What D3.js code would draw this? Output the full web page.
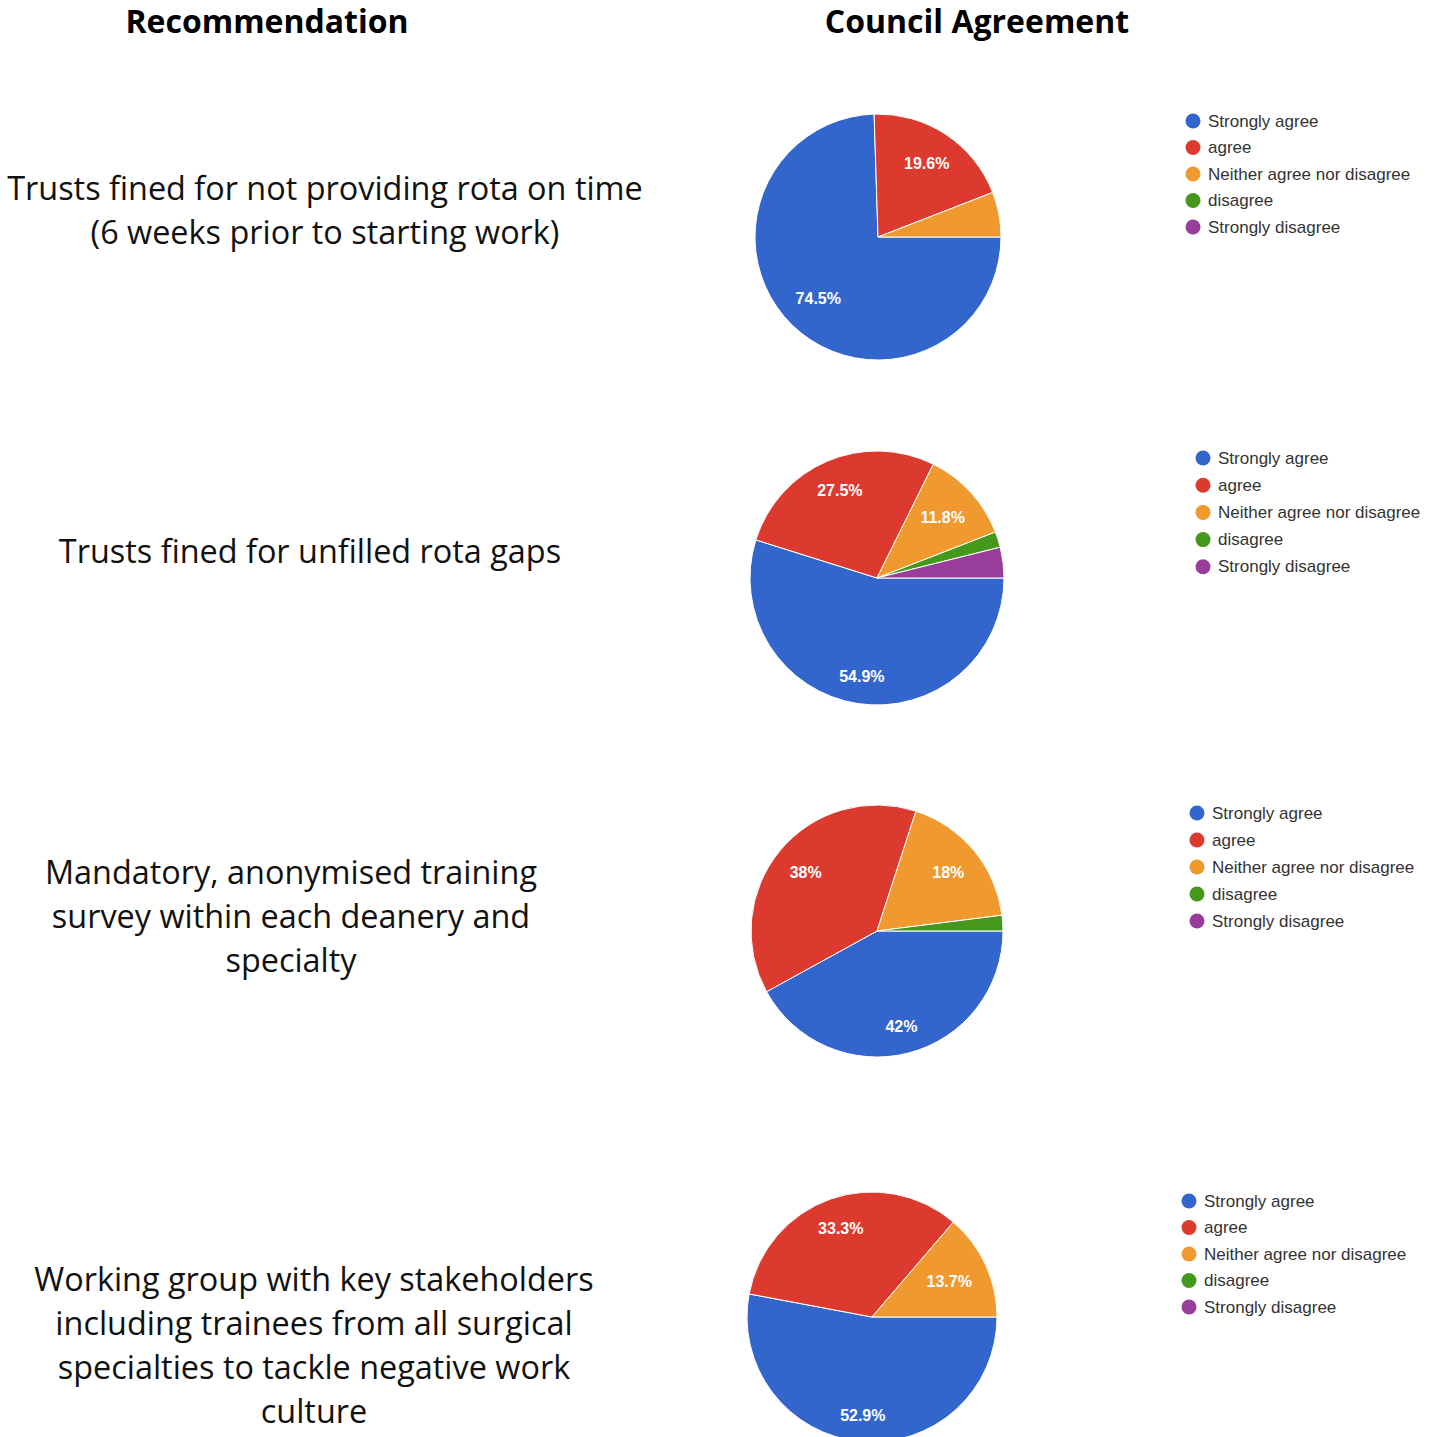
<!DOCTYPE html>
<html>
<head>
<meta charset="utf-8">
<script src="https://cdn.jsdelivr.net/npm/d3@7"></script>
<style>
  html, body { margin: 0; padding: 0; background: #fff; }
  svg { display: block; }
</style>
</head>
<body>
<script>
// Response categories shared by every pie
const categories = ["Strongly agree", "agree", "Neither agree nor disagree", "disagree", "Strongly disagree"];
const colors = ["#3366cc", "#dc3a2e", "#f0992f", "#46981c", "#993d9a"];

// Column headings
const headings = ["Recommendation", "Council Agreement"];

// Recommendation text, one array of lines per row
const recommendation1 = ["Trusts fined for not providing rota on time", "(6 weeks prior to starting work)"];
const recommendation2 = ["Trusts fined for unfilled rota gaps"];
const recommendation3 = ["Mandatory, anonymised training", "survey within each deanery and", "specialty"];
const recommendation4 = ["Working group with key stakeholders", "including trainees from all surgical", "specialties to tackle negative work", "culture"];

// Share of responses (%) per category, same order as categories
const agreement1 = [74.5, 19.6, 5.9, 0, 0];
const agreement2 = [54.9, 27.5, 11.8, 2.0, 3.9];
const agreement3 = [42, 38, 18, 2, 0];
const agreement4 = [52.9, 33.3, 13.7, 0, 0];

const W = 1437, H = 1437;
const svg = d3.select("body").append("svg").attr("width", W).attr("height", H);

// Headings
svg.append("text").attr("x", 267).attr("y", 33).attr("text-anchor", "middle")
  .attr("font-family", "'Open Sans', sans-serif").attr("font-weight", 700)
  .attr("font-size", 32).attr("fill", "#000").text(headings[0]);
svg.append("text").attr("x", 977).attr("y", 33).attr("text-anchor", "middle")
  .attr("font-family", "'Open Sans', sans-serif").attr("font-weight", 700)
  .attr("font-size", 32).attr("fill", "#000").text(headings[1]);

// Row layout: text block, pie and legend placement
const rows = [
  { lines: recommendation1, tx: 325, ty: 200, values: agreement1, cx: 878, cy: 237, r: 123, lx: 1193, ly: 121, ls: 26.5 },
  { lines: recommendation2, tx: 310, ty: 563, values: agreement2, cx: 877, cy: 578, r: 127, lx: 1203, ly: 458, ls: 27.2 },
  { lines: recommendation3, tx: 291, ty: 884, values: agreement3, cx: 877, cy: 931, r: 126, lx: 1197, ly: 813, ls: 27 },
  { lines: recommendation4, tx: 314, ty: 1291, values: agreement4, cx: 872, cy: 1317, r: 125, lx: 1189, ly: 1201, ls: 26.5 }
];

const pie = d3.pie().sort(null).value(d => d.value)
  .startAngle(Math.PI / 2).endAngle(Math.PI / 2 + 2 * Math.PI);
const color = d3.scaleOrdinal().domain(categories).range(colors);

rows.forEach(row => {
  // Recommendation text
  const t = svg.append("text").attr("text-anchor", "middle")
    .attr("font-family", "'Open Sans', sans-serif").attr("font-size", 32.4).attr("fill", "#111");
  row.lines.forEach((ln, i) => {
    t.append("tspan").attr("x", row.tx).attr("y", row.ty + i * 44).text(ln);
  });

  // Pie
  const data = categories.map((c, i) => ({ cat: c, value: row.values[i] }));
  const arcs = pie(data);
  const arc = d3.arc().innerRadius(0).outerRadius(row.r);
  const g = svg.append("g").attr("transform", `translate(${row.cx},${row.cy})`);
  g.selectAll("path").data(arcs.filter(a => a.data.value > 0)).join("path")
    .attr("d", arc).attr("fill", a => color(a.data.cat))
    .attr("stroke", "#fff").attr("stroke-width", 1);

  // Percentage labels on the larger slices, kept inside the slice edge
  arcs.filter(a => a.data.value >= 10).forEach(a => {
    const mid = (a.startAngle + a.endAngle) / 2;
    const sx = Math.sin(mid), sy = -Math.cos(mid);
    const lab = g.append("text").attr("text-anchor", "middle").attr("dominant-baseline", "central")
      .attr("font-family", "'Liberation Sans', Arial, sans-serif").attr("font-weight", 700)
      .attr("font-size", 16).attr("fill", "#fff").text(a.data.value + "%");
    const bb = lab.node().getBBox();
    const ext = (bb.width / 2) * Math.abs(sx) + 7.5 * Math.abs(sy);
    const d = 0.87 * row.r - ext;
    lab.attr("x", d * sx).attr("y", d * sy);
  });

  // Legend
  const lg = svg.append("g");
  categories.forEach((c, i) => {
    const y = row.ly + i * row.ls;
    lg.append("circle").attr("cx", row.lx).attr("cy", y).attr("r", 7.5).attr("fill", color(c));
    lg.append("text").attr("x", row.lx + 15).attr("y", y).attr("dominant-baseline", "central")
      .attr("font-family", "'Liberation Sans', Arial, sans-serif").attr("font-size", 17)
      .attr("fill", "#333").text(c);
  });
});
</script>
</body>
</html>
